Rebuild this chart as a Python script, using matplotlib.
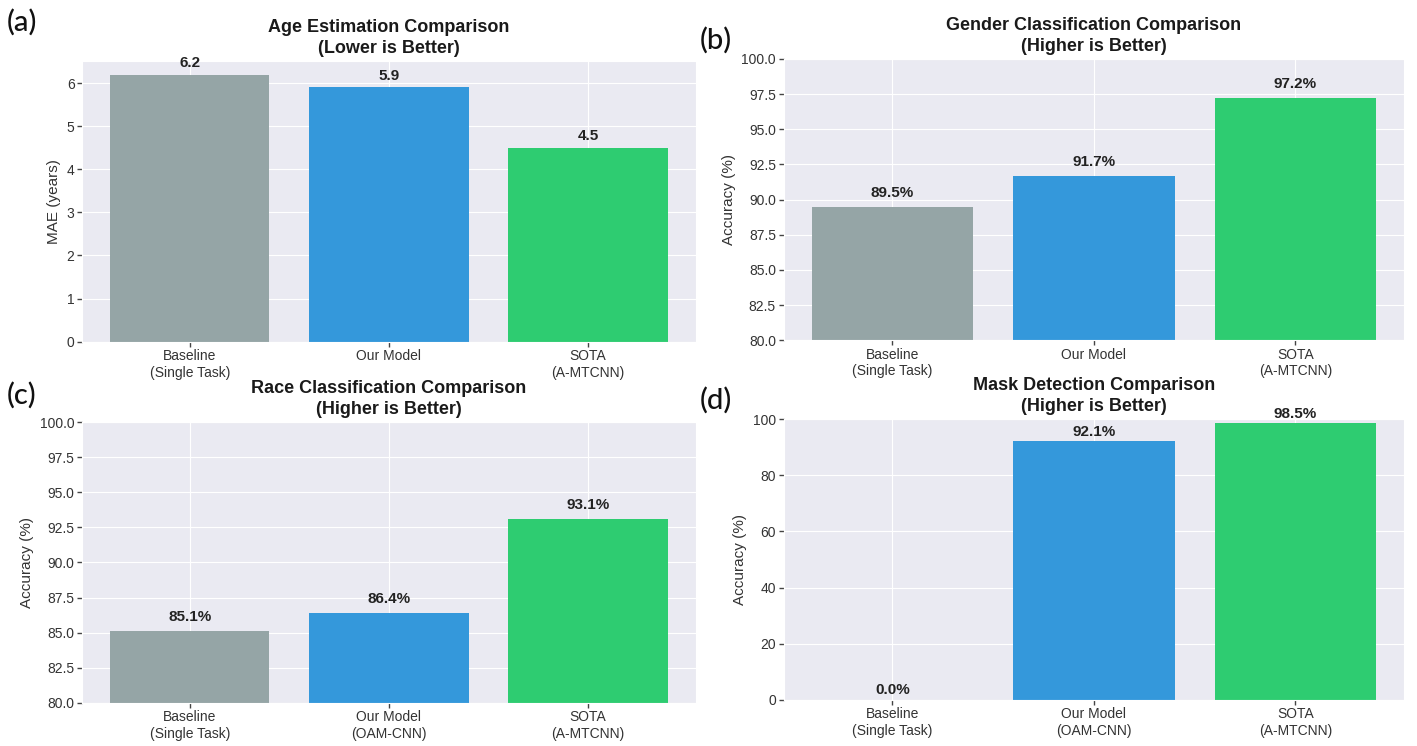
import numpy as np
import matplotlib
matplotlib.use('Agg')
import matplotlib.pyplot as plt
import seaborn as sns

sns.set_style('darkgrid')
plt.rcParams['font.family'] = ['Liberation Sans', 'DejaVu Sans']

# results per task
models_short = ['Baseline\n(Single Task)', 'Our Model', 'SOTA\n(A-MTCNN)']
models_long = ['Baseline\n(Single Task)', 'Our Model\n(OAM-CNN)', 'SOTA\n(A-MTCNN)']
age_mae = [6.2, 5.9, 4.5]
gender_acc = [89.5, 91.7, 97.2]
race_acc = [85.1, 86.4, 93.1]
mask_acc = [0.0, 92.1, 98.5]

colors = ['#95a5a6', '#3498db', '#2ecc71']

fig = plt.figure(figsize=(14.17, 7.46), dpi=100)

# [left, bottom, width, height] of each panel
ax_a = fig.add_axes([0.058, 0.542, 0.433, 0.376])
ax_b = fig.add_axes([0.553, 0.544, 0.438, 0.377])
ax_c = fig.add_axes([0.058, 0.058, 0.433, 0.376])
ax_d = fig.add_axes([0.553, 0.062, 0.438, 0.376])


def bar_panel(ax, labels, values, title, ylabel, ylim, offset, fmt):
    x = np.arange(len(values))
    bars = ax.bar(x, values, width=0.8, color=colors, edgecolor='none', linewidth=0)
    ax.set_xticks(x)
    ax.set_xticklabels(labels, fontsize=10, color='#333333')
    ax.tick_params(axis='both', length=3.5, width=1, color='#444444',
                   labelsize=10, labelcolor='#333333', pad=2)
    ax.tick_params(axis='x', bottom=True)
    ax.tick_params(axis='y', left=True)
    ax.set_ylim(*ylim)
    ax.set_title(title, fontsize=13, fontweight='bold', pad=6, linespacing=1.3,
                 color='#1a1a1a')
    ax.set_ylabel(ylabel, fontsize=11, color='#333333')
    for b, v in zip(bars, values):
        ax.text(b.get_x() + b.get_width() / 2, v + offset, fmt.format(v),
                ha='center', va='bottom', fontsize=11, fontweight='bold',
                color='#222222')


bar_panel(ax_a, models_short, age_mae,
          'Age Estimation Comparison\n(Lower is Better)', 'MAE (years)',
          (0, max(age_mae) * 1.05), 0.1, '{:.1f}')
bar_panel(ax_b, models_short, gender_acc,
          'Gender Classification Comparison\n(Higher is Better)', 'Accuracy (%)',
          (80, 100), 0.5, '{:.1f}%')
bar_panel(ax_c, models_long, race_acc,
          'Race Classification Comparison\n(Higher is Better)', 'Accuracy (%)',
          (80, 100), 0.5, '{:.1f}%')
bar_panel(ax_d, models_long, mask_acc,
          'Mask Detection Comparison\n(Higher is Better)', 'Accuracy (%)',
          (0, 100), 1.0, '{:.1f}%')

# panel letters
for tag, (px, py) in zip(['(a)', '(b)', '(c)', '(d)'],
                         [(0.005, 0.970), (0.494, 0.946), (0.005, 0.470), (0.494, 0.463)]):
    fig.text(px, py, tag, fontsize=21, family=['Lato', 'DejaVu Sans'],
             fontweight='medium', va='center', ha='left', color='#111111')

fig.savefig('out.png', dpi=100, facecolor='white')
